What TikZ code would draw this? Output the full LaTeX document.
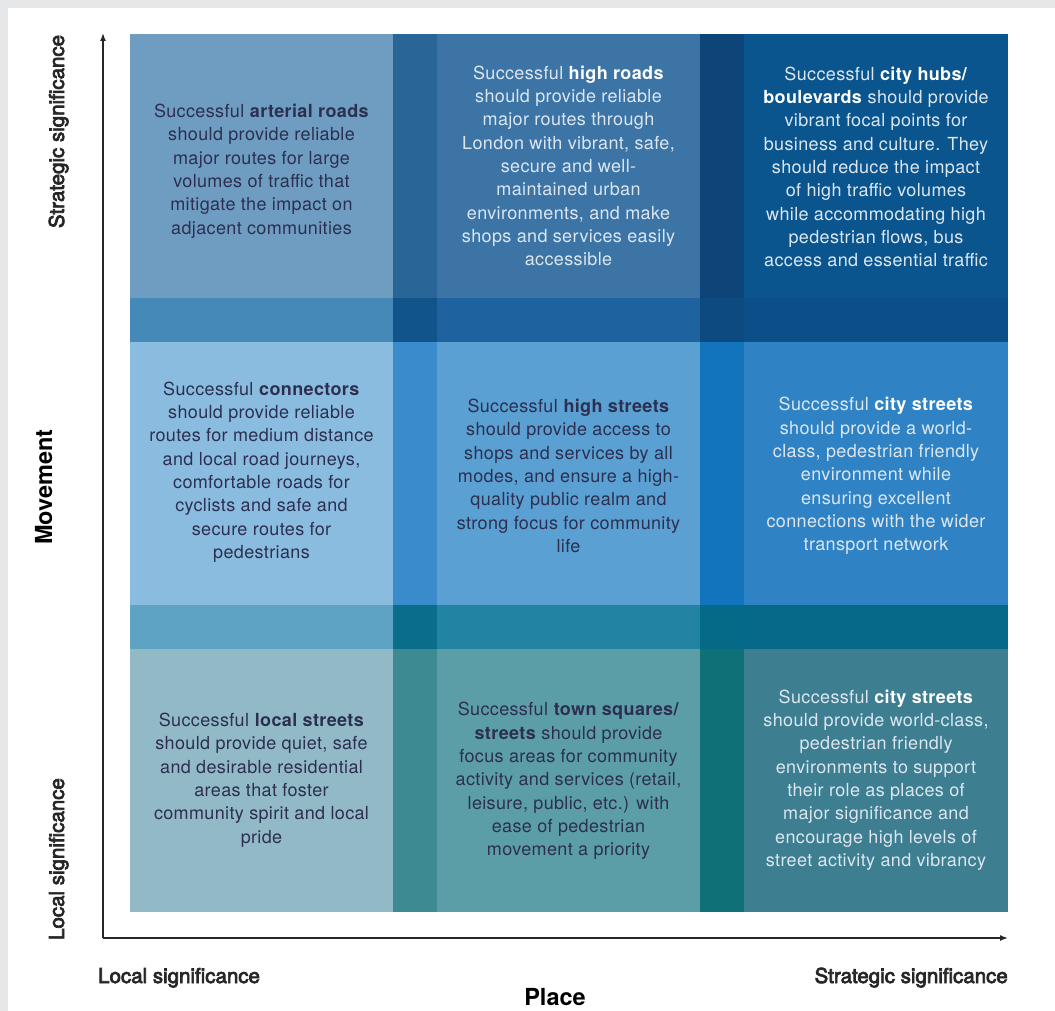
\documentclass[tikz,border=0pt]{standalone}
\usepackage{fontspec}
\setmainfont{TeX Gyre Heros}
\newfontfamily\cellfont[LetterSpace=2]{TeX Gyre Heros}
\newfontfamily\axisfont{TeX Gyre Heros}[FakeBold=3.5]
\usetikzlibrary{arrows.meta}

\definecolor{pagegrey}{HTML}{E6E7E9}
\definecolor{axisgrey}{HTML}{262626}
\definecolor{inkdark}{HTML}{2D2F50}
\definecolor{inklight}{HTML}{DCE6F0}
% top row
\definecolor{ra1}{HTML}{6F9DC2}
\definecolor{ra2}{HTML}{2A6597}
\definecolor{ra3}{HTML}{3B74A5}
\definecolor{ra4}{HTML}{0E4578}
\definecolor{ra5}{HTML}{0B558F}
% strip under top row
\definecolor{rb1}{HTML}{4589B9}
\definecolor{rb2}{HTML}{11548C}
\definecolor{rb3}{HTML}{1F62A0}
\definecolor{rb4}{HTML}{0D4A80}
\definecolor{rb5}{HTML}{0B4E88}
% middle row
\definecolor{rc1}{HTML}{8ABCDF}
\definecolor{rc2}{HTML}{3A8BCB}
\definecolor{rc3}{HTML}{5AA0D2}
\definecolor{rc4}{HTML}{1274BC}
\definecolor{rc5}{HTML}{2F83C4}
% strip under middle row
\definecolor{rd1}{HTML}{5EA3C3}
\definecolor{rd2}{HTML}{0A6E8A}
\definecolor{rd3}{HTML}{2283A3}
\definecolor{rd4}{HTML}{056A87}
\definecolor{rd5}{HTML}{076989}
% bottom row
\definecolor{re1}{HTML}{91BAC6}
\definecolor{re2}{HTML}{3E8A92}
\definecolor{re3}{HTML}{5C9EA8}
\definecolor{re4}{HTML}{0F7177}
\definecolor{re5}{HTML}{3D7E91}

\newcommand{\kw}[1]{\textbf{#1}}
\newcommand{\kwl}[1]{\textcolor{white}{\textbf{#1}}}

\begin{document}
\begin{tikzpicture}[x=1pt,y=-1pt]
            \tikzstyle{every node}+=[inner sep=0pt]
            \tikzstyle{celldark}=[align=center, text=inkdark, font=\cellfont\fontsize{18}{23.3}\selectfont]
            \tikzstyle{celllight}=[celldark, text=inklight]
            \tikzstyle{axislabel}=[text=axisgrey, font=\axisfont\fontsize{20.5}{24}\selectfont]
            \tikzstyle{axistitle}=[text=black, font=\bfseries\fontsize{23.5}{28}\selectfont]
            \tikzstyle{axis}=[draw=axisgrey, line width=1.5pt, -{Latex[length=8pt,width=6pt]}]
            \fill [pagegrey] (0,0) rectangle (1055,1011);
            \fill [white] (8,8) rectangle (1055,1011);
            % top row
            \fill [ra1] (130,34) rectangle (393,298);
            \fill [ra2] (393,34) rectangle (437,298);
            \fill [ra3] (437,34) rectangle (700,298);
            \fill [ra4] (700,34) rectangle (744,298);
            \fill [ra5] (744,34) rectangle (1008,298);
            \fill [rb1] (130,298) rectangle (393,342);
            \fill [rb2] (393,298) rectangle (437,342);
            \fill [rb3] (437,298) rectangle (700,342);
            \fill [rb4] (700,298) rectangle (744,342);
            \fill [rb5] (744,298) rectangle (1008,342);
            % middle row
            \fill [rc1] (130,342) rectangle (393,605);
            \fill [rc2] (393,342) rectangle (437,605);
            \fill [rc3] (437,342) rectangle (700,605);
            \fill [rc4] (700,342) rectangle (744,605);
            \fill [rc5] (744,342) rectangle (1008,605);
            \fill [rd1] (130,605) rectangle (393,649);
            \fill [rd2] (393,605) rectangle (437,649);
            \fill [rd3] (437,605) rectangle (700,649);
            \fill [rd4] (700,605) rectangle (744,649);
            \fill [rd5] (744,605) rectangle (1008,649);
            % bottom row
            \fill [re1] (130,649) rectangle (393,912);
            \fill [re2] (393,649) rectangle (437,912);
            \fill [re3] (437,649) rectangle (700,912);
            \fill [re4] (700,649) rectangle (744,912);
            \fill [re5] (744,649) rectangle (1008,912);
            % cell texts
            \node [celldark] (arterial) at (261.5,171) {Successful \kw{arterial roads}\\should provide reliable\\major routes for large\\volumes of traffic that\\mitigate the impact on\\adjacent communities};
            \node [celllight] (highroads) at (568.5,166) {Successful \kwl{high roads}\\should provide reliable\\major routes through\\London with vibrant, safe,\\secure and well-\\maintained urban\\environments, and make\\shops and services easily\\accessible};
            \node [celllight] (cityhubs) at (876,167) {Successful \kwl{city hubs/}\\\kwl{boulevards} should provide\\vibrant focal points for\\business and culture. They\\should reduce the impact\\of high traffic volumes\\while accommodating high\\pedestrian flows, bus\\access and essential traffic};
            \node [celldark] (connectors) at (261.5,472) {Successful \kw{connectors}\\should provide reliable\\routes for medium distance\\and local road journeys,\\comfortable roads for\\cyclists and safe and\\secure routes for\\pedestrians};
            \node [celldark] (highstreets) at (568.5,476) {Successful \kw{high streets}\\should provide access to\\shops and services by all\\modes, and ensure a high-\\quality public realm and\\strong focus for community\\life};
            \node [celllight] (citystreets) at (876,476) {Successful \kwl{city streets}\\should provide a world-\\class, pedestrian friendly\\environment while\\ensuring excellent\\connections with the wider\\transport network};
            \node [celldark] (localstreets) at (261.5,780) {Successful \kw{local streets}\\should provide quiet, safe\\and desirable residential\\areas that foster\\community spirit and local\\pride};
            \node [celldark] (townsquares) at (568.5,781) {Successful \kw{town squares/}\\\kw{streets} should provide\\focus areas for community\\activity and services (retail,\\leisure, public, etc.) with\\ease of pedestrian\\movement a priority};
            \node [celllight] (citystreetsb) at (876,780) {Successful \kwl{city streets}\\should provide world-class,\\pedestrian friendly\\environments to support\\their role as places of\\major significance and\\encourage high levels of\\street activity and vibrancy};
            % axes
            \coordinate (origin) at (103,938);
            \coordinate (ytop) at (103,33);
            \coordinate (xend) at (1008,938);
            \draw [axis] (origin) -- (ytop);
            \draw [axis] (origin) -- (xend);
            \node [axislabel, rotate=90, anchor=base] (ystrat) at (64,131.5) {Strategic significance};
            \node [axislabel, rotate=90, anchor=base] (ylocal) at (64,859) {Local significance};
            \node [axistitle, rotate=90, anchor=base] (movement) at (52,487) {Movement};
            \node [axislabel, anchor=base west] (xlocal) at (98,983) {Local significance};
            \node [axislabel, anchor=base east] (xstrat) at (1008,983) {Strategic significance};
            \node [axistitle, anchor=base] (place) at (555,1005) {Place};
\end{tikzpicture}
\end{document}
